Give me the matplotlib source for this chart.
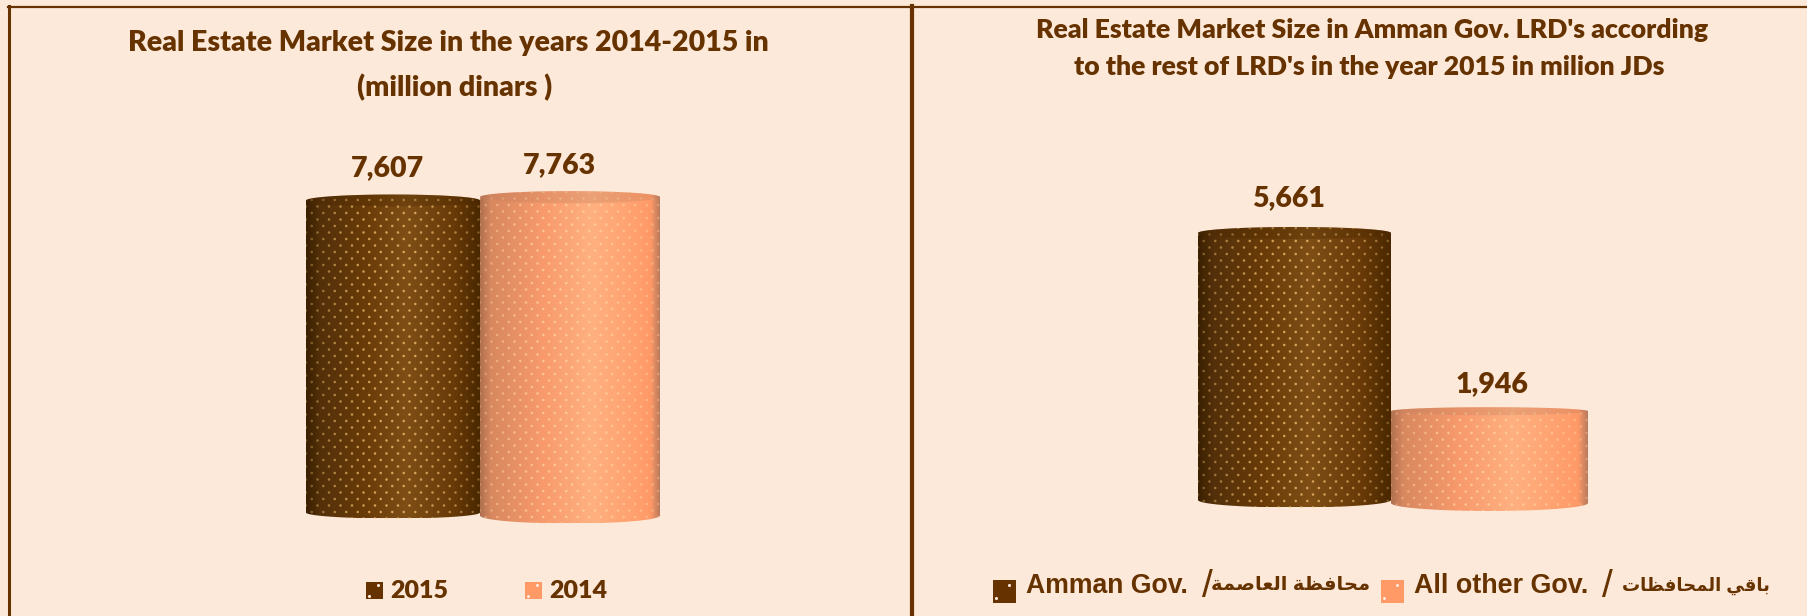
import numpy as np
import matplotlib
matplotlib.use("Agg")
import matplotlib.pyplot as plt
from matplotlib.colors import LinearSegmentedColormap, to_rgba
from matplotlib.patches import Ellipse, PathPatch, Rectangle
from matplotlib.path import Path

# ---- data
left_labels = ["2015", "2014"]
left_values = [7607, 7763]
right_labels = ["Amman Gov.", "All other Gov."]
right_values = [5661, 1946]

left_title = ["Real Estate Market Size in the years 2014-2015 in", "(million dinars )"]
right_title = ["Real Estate Market Size in Amman Gov. LRD's according",
               "to the rest of LRD's in the year 2015 in milion JDs"]

# arabic in presentation forms, visual order (matplotlib does no shaping)
ar_capital = "\ufee3\ufea4\ufe8e\ufed3\ufec8\ufe94 \ufe8d\ufedf\ufecc\ufe8e\ufebb\ufee4\ufe94"[::-1]
ar_others = "\ufe91\ufe8e\ufed7\ufef2 \ufe8d\ufedf\ufee4\ufea4\ufe8e\ufed3\ufec8\ufe8e\ufe95"[::-1]

W, H = 1808, 616
BG = "#FDE9D9"
BROWN = "#663300"
PEACH = "#FF9966"
FONT = "Lato"
FONT2 = ["Liberation Sans", "DejaVu Sans"]
HEAVY = 800

dark_cmap = LinearSegmentedColormap.from_list("dark", [
    (0.0, "#3A2000"), (0.08, "#53300A"), (0.35, "#6A3C08"), (0.58, "#7E4E16"),
    (0.85, "#683A08"), (1.0, "#4A2800")])
light_cmap = LinearSegmentedColormap.from_list("light", [
    (0.0, "#B0704F"), (0.06, "#D8885F"), (0.35, "#F89A6C"), (0.62, "#FFB080"),
    (0.95, "#FF9A68"), (1.0, "#BB7A5C")])

fig = plt.figure(figsize=(W / 100, H / 100), dpi=100, facecolor=BG)

# pixel-space layer for frame and text
bg = fig.add_axes([0, 0, 1, 1], zorder=0)
bg.set_xlim(0, W)
bg.set_ylim(H, 0)
bg.axis("off")
bg.plot([8, W], [6.5, 6.5], color=BROWN, lw=1.6)
bg.plot([9.5, 9.5], [6, H], color=BROWN, lw=2.2)
bg.plot([912, 912], [6, H], color=BROWN, lw=3.0)


def add_axes_px(x0, x1, y_base, px_per_unit, top_value, pad_px=40):
    # axes whose y=0 sits on y_base, with room under it for the lower rim
    height = (top_value * px_per_unit) + pad_px
    ax = fig.add_axes([x0 / W, (H - y_base - pad_px) / H, (x1 - x0) / W, height / H], zorder=1)
    ax.set_ylim(-pad_px / px_per_unit, top_value)
    ax.axis("off")
    ax.patch.set_alpha(0)
    return ax


def cylinder(ax, x0, x1, value, cmap, dot_color, cap_color, px_per_unit, cap_px, rim_px, dy_px=0.0):
    # cylinder on the axes data scale, x0/x1 in axes data units
    ry = cap_px / px_per_unit
    ry_low = rim_px / px_per_unit
    off = dy_px / px_per_unit
    t = np.linspace(0, np.pi, 80)
    cx, rx = (x0 + x1) / 2, (x1 - x0) / 2
    top_x, top_y = cx - rx * np.cos(t), value + off + ry * np.sin(t)
    bot_x, bot_y = cx + rx * np.cos(t), off - ry_low * np.sin(t)
    verts = np.r_[np.c_[top_x, top_y], np.c_[bot_x, bot_y], [[top_x[0], top_y[0]]]]
    codes = [Path.MOVETO] + [Path.LINETO] * (len(verts) - 2) + [Path.CLOSEPOLY]
    clip = PathPatch(Path(verts, codes), fc="none", ec="none", transform=ax.transData)
    ax.add_patch(clip)
    grad = np.linspace(0, 1, 256)[None, :]
    im = ax.imshow(grad, cmap=cmap, aspect="auto", interpolation="bilinear",
                   extent=[x0, x1, off - ry_low, value + off + ry], zorder=2)
    im.set_clip_path(clip)
    # dotted texture: staggered grid, stronger in the middle of the cylinder
    step_y = 6.5 / px_per_unit
    rows = np.arange(off - ry_low, value + off + ry, step_y)
    step_x = 11.5
    xs, ys = [], []
    for i, yy in enumerate(rows):
        start = x0 + (step_x / 2 if i % 2 else 0)
        row_x = np.arange(start, x1, step_x)
        xs.append(row_x)
        ys.append(np.full_like(row_x, yy))
    xs, ys = np.concatenate(xs), np.concatenate(ys)
    edge = np.abs(xs - cx) / rx
    colors = np.tile(to_rgba(dot_color), (len(xs), 1))
    colors[:, 3] = 0.85 * (1 - 0.6 * edge ** 2)
    sc = ax.scatter(xs, ys, s=3.4, c=colors, linewidths=0, zorder=3)
    sc.set_clip_path(clip)
    # top face, a bit darker than the body
    cap = Ellipse((cx, value + off), 2 * rx, 2 * ry, fc=cap_color, ec="none", alpha=0.3, zorder=4)
    ax.add_patch(cap)


def value_label(ax, x, value, offset_px):
    ax.annotate(f"{value:,}", xy=(x, value), xytext=(0, offset_px * 0.72),
                textcoords="offset points", ha="center", va="center", fontsize=20.5,
                fontweight=HEAVY, family=FONT, color=BROWN, annotation_clip=False)


# ---- left chart
ppu_l = 312 / left_values[0]
ax_l = add_axes_px(306, 660, 512.5, ppu_l, 9000)
ax_l.set_xlim(0, 354)
cylinder(ax_l, 0, 174, left_values[0], dark_cmap, "#E8B468", "#4A2800", ppu_l, 6, 6)
cylinder(ax_l, 174, 354, left_values[1], light_cmap, "#FFCF9E", "#C07E5E", ppu_l, 6, 8, dy_px=-3)
value_label(ax_l, 82, left_values[0], 32)
value_label(ax_l, 253, left_values[1], 29)

# ---- right chart
ppu_r = 267 / right_values[0]
ax_r = add_axes_px(1198, 1588, 500, ppu_r, 7000)
ax_r.set_xlim(0, 390)
cylinder(ax_r, 0, 193, right_values[0], dark_cmap, "#E8B468", "#4A2800", ppu_r, 6, 7.5)
cylinder(ax_r, 193, 390, right_values[1], light_cmap, "#FFCF9E", "#C07E5E", ppu_r, 4, 8, dy_px=-3)
value_label(ax_r, 90, right_values[0], 35)
value_label(ax_r, 294, right_values[1], 24)

# ---- titles
title_font = dict(ha="center", va="center", fontweight=HEAVY, family=FONT, color=BROWN)
bg.text(448, 43, left_title[0], fontsize=20.5, **title_font)
bg.text(455, 88, left_title[1], fontsize=20.5, **title_font)
bg.text(1372, 30, right_title[0], fontsize=19.2, **title_font)
bg.text(1369, 67, right_title[1], fontsize=19.2, **title_font)


def swatch(x0, y0, w, h, color):
    bg.add_patch(Rectangle((x0, y0), w, h, fc=color, ec="none"))
    bg.scatter([x0 + w * 0.7, x0 + w * 0.15], [y0 + h * 0.2, y0 + h * 0.8],
               s=5, c="#FFE9D8", linewidths=0)


# ---- legends
swatch(366, 582, 17, 17, BROWN)
bg.text(390, 591, left_labels[0], va="center", fontsize=18, fontweight=HEAVY,
        family=FONT, color=BROWN)
swatch(525, 582, 17, 17, PEACH)
bg.text(549, 591, left_labels[1], va="center", fontsize=18, fontweight=HEAVY,
        family=FONT, color=BROWN)

legend_font = dict(va="center", fontweight="bold", family=FONT2, color=BROWN)
slash_font = dict(va="center", ha="center", fontsize=28, family="Liberation Sans", color=BROWN)
swatch(993, 580, 23, 23, BROWN)
bg.text(1026, 586, right_labels[0], fontsize=19.2, **legend_font)
bg.text(1207, 587, "/", **slash_font)
bg.text(1211, 586, ar_capital, fontsize=14, **legend_font)
swatch(1381, 580, 23, 23, PEACH)
bg.text(1414, 586, right_labels[1], fontsize=19.4, **legend_font)
bg.text(1607, 587, "/", **slash_font)
bg.text(1622, 586, ar_others, fontsize=13, **legend_font)

fig.savefig("out.png", dpi=100, facecolor=BG)
